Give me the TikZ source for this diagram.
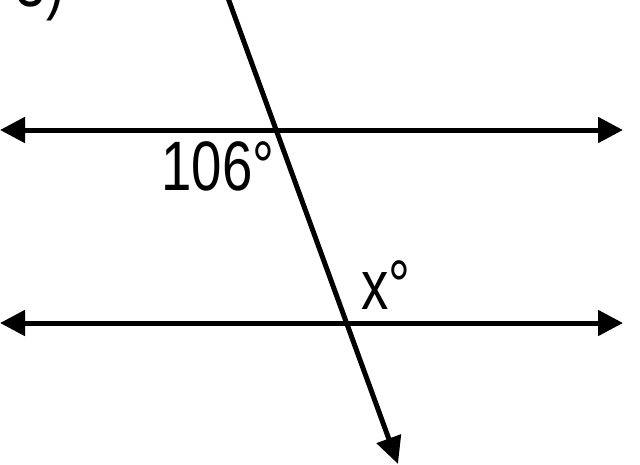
\documentclass[tikz,border=0pt]{standalone}
\usepackage{fontspec}
\setmainfont{Liberation Sans}
\usetikzlibrary{arrows.meta}
\tikzset{
  ln/.style={line width=5pt},
  bothways/.style={ln,{Triangle[length=25pt,width=25pt]}-{Triangle[length=25pt,width=25pt]}},
  oneway/.style={ln,-{Triangle[length=27pt,width=25pt]}},
  lbl/.style={inner sep=0pt,xscale=0.78,font=\fontsize{70}{70}\selectfont}
}

\begin{document}
\begin{tikzpicture}[x=1pt,y=-1pt]

        \clip (0,0) rectangle (640,464);
        \useasboundingbox (0,0) rectangle (640,464);

        \coordinate (A) at (0,130);    \coordinate (A1) at (623,130);
        \coordinate (B) at (0,323);    \coordinate (B1) at (623,323);
        \coordinate (T) at (228,-2);   \coordinate (T1) at (398,464);

        \draw[bothways] (A) -- (A1);
        \draw[bothways] (B) -- (B1);
        \draw[oneway] (T) -- (T1);

        \node[lbl,anchor=base] (num) at (40,6) {3)};
        \node[lbl] (ang) at (218,166) {106°};
        \node[lbl] (x) at (386,285) {x°};

      \end{tikzpicture}
\end{document}
